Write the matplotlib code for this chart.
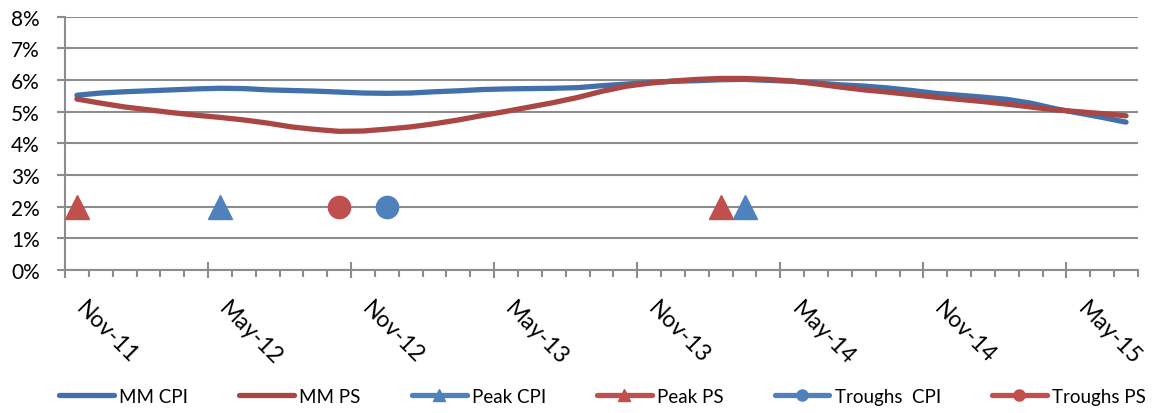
import numpy as np
import pandas as pd
import matplotlib
matplotlib.use("Agg")
import matplotlib.pyplot as plt
import matplotlib.transforms as mtransforms
from matplotlib.lines import Line2D
from matplotlib.ticker import MultipleLocator, FixedLocator, FuncFormatter

plt.rcParams['font.family'] = ['Lato', 'DejaVu Sans']

# monthly series, Nov-11 .. Jul-15
months = pd.date_range('2011-11-01', periods=45, freq='MS')

mm_cpi = [5.52, 5.59, 5.63, 5.66, 5.69, 5.72, 5.74, 5.73, 5.69, 5.67,
          5.65, 5.62, 5.59, 5.58, 5.59, 5.63, 5.66, 5.70, 5.72, 5.73,
          5.74, 5.76, 5.82, 5.87, 5.92, 5.96, 5.98, 6.01, 6.02, 5.99,
          5.96, 5.91, 5.85, 5.81, 5.75, 5.67, 5.58, 5.52, 5.46, 5.39,
          5.27, 5.10, 4.96, 4.82, 4.67]

mm_ps = [5.40, 5.27, 5.15, 5.06, 4.97, 4.89, 4.82, 4.74, 4.64, 4.52,
         4.44, 4.38, 4.39, 4.45, 4.52, 4.62, 4.74, 4.88, 5.01, 5.15,
         5.29, 5.45, 5.64, 5.80, 5.90, 5.97, 6.02, 6.05, 6.05, 6.02,
         5.97, 5.88, 5.78, 5.69, 5.62, 5.54, 5.46, 5.39, 5.32, 5.24,
         5.15, 5.06, 5.00, 4.94, 4.87]

# turning points (month, level)
peak_cpi_months = ['2012-05', '2014-03']
peak_cpi_vals = [2, 2]
peak_ps_months = ['2011-11', '2014-02']
peak_ps_vals = [2, 2]
trough_cpi_months = ['2012-12']
trough_cpi_vals = [2]
trough_ps_months = ['2012-10']
trough_ps_vals = [2]

tick_labels = ['Nov-11', 'May-12', 'Nov-12', 'May-13',
               'Nov-13', 'May-14', 'Nov-14', 'May-15']

blue_line = '#4270AA'
red_line = '#AA4643'
blue_mk = '#4F81BD'
red_mk = '#C0504D'
grid_c = '#8C8C8C'


def month_pos(labels):
    # centre of each month slot on the axis
    idx = [months.get_loc(pd.Timestamp(m + '-01')) for m in labels]
    return np.array(idx) + 0.5


x = np.arange(len(months)) + 0.5

fig = plt.figure(figsize=(11.52, 4.14), dpi=100)
ax = fig.add_axes([0.0564, 0.3454, 0.9314, 0.6118])

ax.plot(x, mm_cpi, color=blue_line, lw=3.8, solid_capstyle='round', solid_joinstyle='round', zorder=3)
ax.plot(x, mm_ps, color=red_line, lw=3.8, solid_capstyle='round', solid_joinstyle='round', zorder=4)

ax.plot(month_pos(peak_cpi_months), peak_cpi_vals, ls='none', marker='^', ms=17, color=blue_mk, mec=blue_mk, zorder=5)
ax.plot(month_pos(peak_ps_months), peak_ps_vals, ls='none', marker='^', ms=17, color=red_mk, mec=red_mk, zorder=5)
ax.plot(month_pos(trough_cpi_months), trough_cpi_vals, ls='none', marker='o', ms=16, color=blue_mk, mec=blue_mk, zorder=5)
ax.plot(month_pos(trough_ps_months), trough_ps_vals, ls='none', marker='o', ms=16, color=red_mk, mec=red_mk, zorder=5)

ax.set_xlim(0, 45)
ax.set_ylim(0, 8)

ax.yaxis.set_major_locator(MultipleLocator(1))
ax.yaxis.set_major_formatter(FuncFormatter(lambda v, p: f'{v:.0f}%'))
ax.grid(axis='y', color=grid_c, lw=1.5)
ax.set_axisbelow(True)

ax.xaxis.set_major_locator(FixedLocator(np.arange(0, 43, 6)))
ax.xaxis.set_minor_locator(MultipleLocator(1))
ax.set_xticklabels(tick_labels, rotation=-45, ha='left', va='top', rotation_mode='anchor')

ax.tick_params(axis='x', which='major', direction='inout', length=11, width=1.5, color=grid_c,
               labelsize=16.5, pad=14)
ax.tick_params(axis='x', which='minor', direction='out', length=5, width=1.5, color=grid_c)
ax.tick_params(axis='y', which='major', direction='out', length=6, width=1.5, color=grid_c,
               labelsize=15, pad=12)

# nudge the slanted month labels to the right of their ticks
shift = mtransforms.ScaledTranslation(22 / 100, 0, fig.dpi_scale_trans)
for lab in ax.get_xticklabels():
    lab.set_transform(lab.get_transform() + shift)

for s in ['top', 'right']:
    ax.spines[s].set_visible(False)
for s in ['left', 'bottom']:
    ax.spines[s].set_color(grid_c)
    ax.spines[s].set_linewidth(1.5)

handles = [
    Line2D([], [], color=blue_line, lw=3.8, solid_capstyle='round'),
    Line2D([], [], color=red_line, lw=3.8, solid_capstyle='round'),
    Line2D([], [], color=blue_mk, lw=3.8, marker='^', ms=8, solid_capstyle='round'),
    Line2D([], [], color=red_mk, lw=3.8, marker='^', ms=8, solid_capstyle='round'),
    Line2D([], [], color=blue_mk, lw=3.8, marker='o', ms=8, solid_capstyle='round'),
    Line2D([], [], color=red_mk, lw=3.8, marker='o', ms=8, solid_capstyle='round'),
]
names = ['MM CPI', 'MM PS', 'Peak CPI', 'Peak PS', 'Troughs  CPI', 'Troughs PS']
fig.legend(handles, names, loc='center', bbox_to_anchor=(0.523, 0.041), ncol=6, frameon=False,
           fontsize=13.5, handlelength=2.93, handletextpad=0.27, columnspacing=2.72, borderpad=0)

fig.savefig('out.png', dpi=100)
